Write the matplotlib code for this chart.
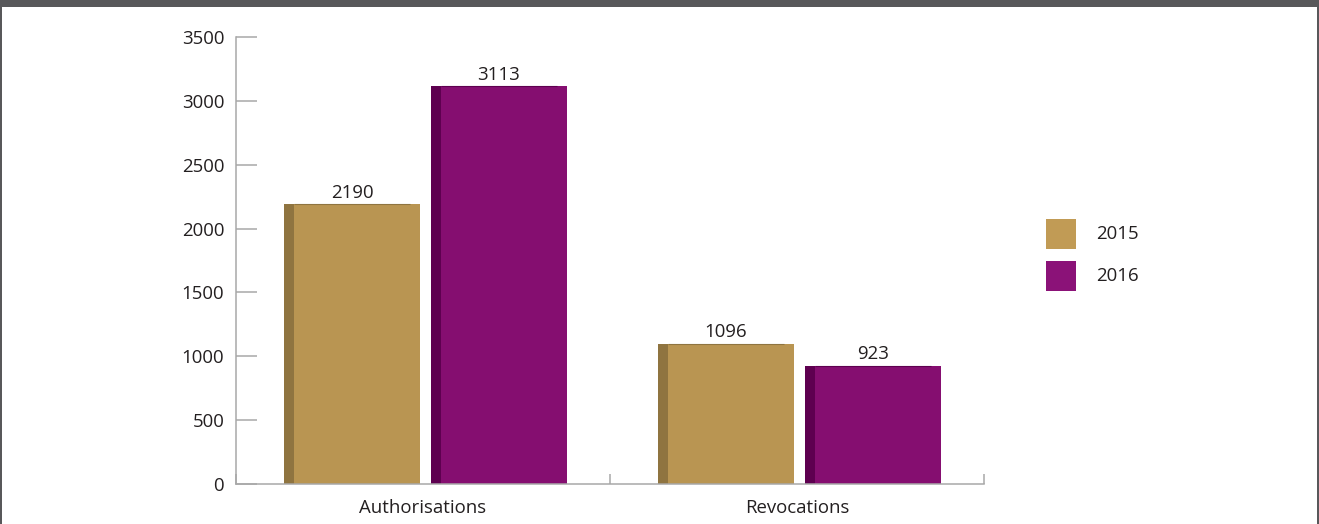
import numpy as np
import matplotlib.pyplot as plt
from matplotlib.patches import Rectangle

plt.rcParams['font.family'] = ['Open Sans', 'DejaVu Sans']

categories = ['Authorisations', 'Revocations']
years = ['2015', '2016']
values_2015 = [2190, 1096]
values_2016 = [3113, 923]

front_colors = ['#b99552', '#850e70']
side_colors = ['#8f7440', '#5e0050']
legend_colors = ['#c19b55', '#8b1278']
axis_grey = '#a8a8a8'
text_color = '#231f20'
fs = 13.4

fig = plt.figure(figsize=(13.19, 5.24), dpi=100)
ax = fig.add_axes([236 / 1319, 40 / 524, (984 - 236) / 1319, (484 - 37) / 524])

x = np.arange(len(categories))
width = 0.364
side = 0.027
offsets = [-0.19, 0.203]

for vals, off, fc, sc in zip([values_2015, values_2016], offsets, front_colors, side_colors):
    left = x + off - width / 2
    # darker side face, then the front face
    ax.bar(left, vals, width=side, align='edge', color=sc, linewidth=0)
    ax.bar(left + side, vals, width=width - side, align='edge', color=fc, linewidth=0)
    for xi, li, v in zip(x, left, vals):
        ax.plot([li + side, li + width - side], [v, v], color=sc, lw=0.8, solid_capstyle='butt')
        ax.annotate(str(v), (li + width / 2, v), xytext=(0, 2), textcoords='offset points',
                    ha='center', va='bottom', fontsize=fs, color=text_color)

ax.set_xlim(-0.5, 1.5)
ax.set_ylim(0, 3500)
ax.set_yticks(np.arange(0, 3501, 500))
ax.set_xticks(x)
ax.set_xticklabels(categories)
ax.set_xticks([-0.5, 0.5, 1.5], minor=True)

for s in ['top', 'right']:
    ax.spines[s].set_visible(False)
for s in ['left', 'bottom']:
    ax.spines[s].set_color(axis_grey)
    ax.spines[s].set_linewidth(1.1)

ax.tick_params(axis='y', direction='in', length=15, width=1.1, color=axis_grey,
               pad=8.5, labelsize=fs, labelcolor=text_color)
ax.tick_params(axis='x', which='major', length=0, pad=11, labelsize=fs, labelcolor=text_color)
ax.tick_params(axis='x', which='minor', direction='in', length=7, width=1.1, color=axis_grey)

# legend drawn as squares + text in figure pixels
for i, (yr, c) in enumerate(zip(years, legend_colors)):
    top = 219 + i * 42
    fig.patches.append(Rectangle((1046 / 1319, 1 - (top + 30) / 524), 30 / 1319, 30 / 524,
                                 transform=fig.transFigure, color=c, lw=0))
    fig.text(1096 / 1319, 1 - (top + 15) / 524, yr, ha='left', va='center',
             fontsize=fs, color=text_color)

# frame: dark band on top and thin side borders
fig.patches.append(Rectangle((0, 1 - 7 / 524), 1, 7 / 524, transform=fig.transFigure,
                             color='#58585a', lw=0))
fig.patches.append(Rectangle((1 - 2.5 / 1319, 0), 2.5 / 1319, 1, transform=fig.transFigure,
                             color='#58585a', lw=0))
fig.patches.append(Rectangle((0, 0), 1.5 / 1319, 1, transform=fig.transFigure,
                             color='#58585a', lw=0))

fig.savefig('out.png', dpi=100)
